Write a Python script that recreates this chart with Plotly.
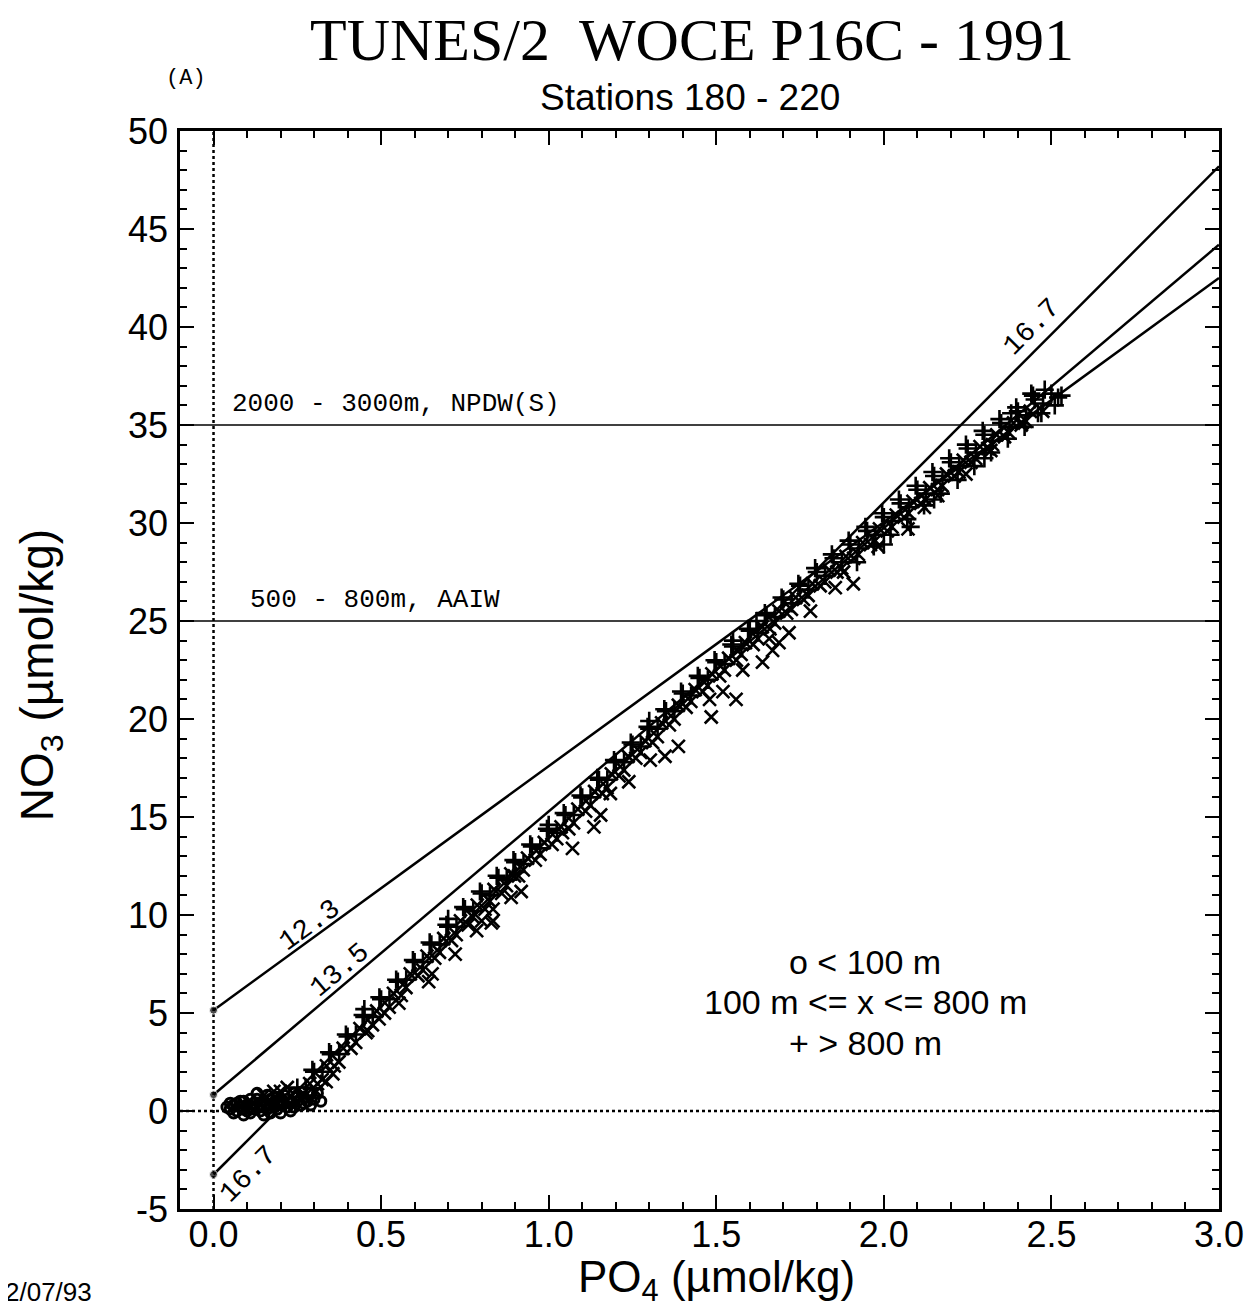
import plotly.graph_objects as go

# ---------------- data ----------------
po4_range = [-0.1, 3.0]
no3_range = [-5, 50]
x_tick_vals = [0.0, 0.5, 1.0, 1.5, 2.0, 2.5, 3.0]
x_tick_text = ["0.0", "0.5", "1.0", "1.5", "2.0", "2.5", "3.0"]
y_tick_vals = [-5, 0, 5, 10, 15, 20, 25, 30, 35, 40, 45, 50]
y_tick_text = ["-5", "0", "5", "10", "15", "20", "25", "30", "35", "40", "45", "50"]

# N:P reference lines  (PO4 at start / end, NO3 at start / end)
ratio_labels = ["12.3", "13.5", "16.7"]
ratio_po4 = [0.0, 3.0]
ratio_start_no3 = [5.14, 0.83, -3.24]
ratio_end_no3 = [42.5, 44.2, 48.2]

# water-mass reference levels
water_levels = [35, 25]
water_labels = ["2000 - 3000m, NPDW(S)", "500 - 800m, AAIW"]

# + : > 800 m
deep_points = [
    (0.25, 1.2), (0.275, 1.2), (0.30, 2.0), (0.325, 2.0), (0.35, 2.9), (0.375, 2.9),
    (0.40, 3.8), (0.425, 3.9), (0.45, 4.8), (0.475, 4.8), (0.50, 5.7), (0.525, 5.7),
    (0.55, 6.6), (0.575, 6.7), (0.60, 7.6), (0.625, 7.6), (0.65, 8.5), (0.675, 8.5),
    (0.70, 9.4), (0.725, 9.4), (0.75, 10.3), (0.775, 10.2), (0.80, 11.1), (0.825, 11.0),
    (0.85, 11.9), (0.875, 11.8), (0.90, 12.7), (0.925, 12.6), (0.95, 13.5), (0.975, 13.4),
    (1.00, 14.3), (1.025, 14.2), (1.05, 15.1), (1.075, 15.1), (1.10, 16.0), (1.125, 16.0),
    (1.15, 16.9), (1.175, 16.9), (1.20, 17.8), (1.225, 17.8), (1.25, 18.7), (1.275, 18.6),
    (1.30, 19.5), (1.325, 19.5), (1.35, 20.4), (1.375, 20.4), (1.40, 21.3), (1.425, 21.2),
    (1.45, 22.1), (1.475, 22.0), (1.50, 22.9), (1.525, 22.8), (1.55, 23.7), (1.575, 23.6),
    (1.60, 24.5), (1.625, 24.4), (1.65, 25.3), (1.675, 25.2), (1.70, 26.1), (1.725, 25.9),
    (1.75, 26.8), (1.775, 26.6), (1.80, 27.5), (1.825, 27.3), (1.85, 28.2), (1.875, 28.0),
    (1.90, 28.9), (1.925, 28.7), (1.95, 29.6), (1.975, 29.4), (2.00, 30.3), (2.025, 30.1),
    (2.05, 31.0), (2.075, 30.8), (2.10, 31.7), (2.125, 31.5), (2.15, 32.4), (2.175, 32.2),
    (2.20, 33.1), (2.225, 32.9), (2.25, 33.8), (2.275, 33.6), (2.30, 34.5), (2.325, 34.2),
    (2.35, 35.1), (2.375, 34.9), (2.40, 35.7), (2.425, 35.5), (2.45, 36.3), (2.475, 36.1),
    (2.50, 36.6), (2.52, 36.4),
    (0.295, 2.1), (0.345, 3.0), (0.395, 3.9), (0.445, 4.9), (0.495, 5.8), (0.545, 6.7),
    (0.595, 7.7), (0.645, 8.6), (0.695, 9.5), (0.745, 10.4), (0.795, 11.2), (0.845, 12.0),
    (0.895, 12.8), (0.945, 13.6), (0.995, 14.4), (1.045, 15.2), (1.095, 16.1), (1.145, 17.0),
    (1.195, 17.9), (1.245, 18.8), (1.295, 19.6), (1.345, 20.5), (1.395, 21.4), (1.445, 22.2),
    (1.495, 23.0), (1.545, 23.8), (1.595, 24.6), (1.645, 25.4), (1.695, 26.2), (1.745, 26.9),
    (1.795, 27.7), (1.845, 28.4), (1.895, 29.1), (1.945, 29.8), (1.995, 30.5), (2.045, 31.2),
    (2.095, 31.9), (2.145, 32.6), (2.195, 33.3), (2.245, 34.0), (2.295, 34.7), (2.345, 35.3),
    (2.395, 35.9), (2.445, 36.5),
    (1.92, 28.0), (1.97, 28.8), (2.02, 29.4), (2.07, 30.2), (2.12, 30.9), (2.17, 31.5),
    (2.22, 32.2), (2.27, 32.9), (2.32, 33.6), (2.37, 34.3), (2.42, 34.9), (2.47, 35.6),
    (2.51, 36.0), (2.38, 35.6), (2.44, 36.6), (2.48, 36.8), (2.53, 36.5), (2.46, 35.6),
    (2.08, 29.8), (2.00, 28.9), (2.15, 31.2), (2.30, 33.3), (1.30, 19.9), (1.00, 14.6),
    (0.70, 9.8), (0.45, 5.2), (1.55, 24.0), (1.62, 25.0),
]

# x : 100 m <= z <= 800 m
mid_points = [
    (0.26, 0.7), (0.31, 1.4), (0.36, 2.3), (0.41, 3.2), (0.46, 4.1), (0.51, 5.0),
    (0.56, 5.9), (0.61, 6.9), (0.66, 7.8), (0.71, 8.7), (0.76, 9.5), (0.81, 10.3),
    (0.86, 11.1), (0.91, 12.0), (0.96, 12.8), (1.01, 13.6), (1.06, 14.4), (1.11, 15.3),
    (1.16, 16.2), (1.21, 17.1), (1.26, 18.0), (1.31, 18.8), (1.36, 19.7), (1.41, 20.6),
    (1.46, 21.4), (1.51, 22.2), (1.56, 23.0), (1.61, 23.8), (1.66, 24.6), (1.71, 25.4),
    (1.76, 26.1), (1.81, 26.8), (1.86, 27.5), (1.91, 28.2), (1.96, 28.9), (2.01, 29.6),
    (2.06, 30.3), (2.11, 31.0), (2.16, 31.7), (2.21, 32.4), (2.26, 33.1), (2.31, 33.8),
    (2.36, 34.4), (2.41, 35.0),
    (0.287, 1.4), (0.337, 2.3), (0.387, 3.2), (0.437, 4.2), (0.487, 5.1), (0.537, 6.0),
    (0.587, 7.0), (0.637, 7.9), (0.687, 8.8), (0.737, 9.7), (0.787, 10.5), (0.837, 11.3),
    (0.887, 12.1), (0.937, 12.9), (0.987, 13.7), (1.037, 14.5), (1.087, 15.4), (1.137, 16.3),
    (1.187, 17.2), (1.237, 18.1), (1.287, 18.9), (1.337, 19.8), (1.387, 20.7), (1.437, 21.5),
    (1.487, 22.3), (1.537, 23.1), (1.587, 23.9), (1.637, 24.7), (1.687, 25.5), (1.737, 26.2),
    (1.787, 26.9), (1.837, 27.6), (1.887, 28.3), (1.937, 29.0), (1.987, 29.7), (2.037, 30.4),
    (2.087, 31.1), (2.137, 31.8), (2.187, 32.5), (2.237, 33.2), (2.287, 33.9), (2.337, 34.5),
    (2.387, 35.1), (2.437, 35.7),
    (0.274, 0.8), (0.324, 1.6), (0.374, 2.5), (0.424, 3.5), (0.474, 4.4), (0.524, 5.3),
    (0.574, 6.3), (0.624, 7.2), (0.674, 8.1), (0.724, 9.0), (0.774, 9.9), (0.824, 10.7),
    (0.874, 11.5), (0.924, 12.3), (0.974, 13.1), (1.024, 13.9), (1.074, 14.7), (1.124, 15.6),
    (1.174, 16.5), (1.224, 17.4), (1.274, 18.3), (1.324, 19.1), (1.374, 20.0), (1.424, 20.9),
    (1.474, 21.7), (1.524, 22.5), (1.574, 23.3), (1.624, 24.1), (1.674, 24.9), (1.724, 25.6),
    (1.774, 26.3), (1.824, 27.0), (1.874, 27.7), (1.924, 28.4), (1.974, 29.1), (2.024, 29.8),
    (2.074, 30.5), (2.124, 31.2), (2.174, 31.9), (2.224, 32.6), (2.274, 33.3), (2.324, 34.0),
    (2.374, 34.6), (2.424, 35.2), (2.474, 35.7),
    (0.307, 1.0), (0.336, 1.5), (0.356, 1.9), (0.455, 4.0), (0.494, 4.7), (0.553, 5.5),
    (0.642, 6.6), (0.652, 7.0), (0.721, 8.0), (0.785, 9.2), (0.834, 9.7), (0.834, 10.3),
    (0.800, 9.7), (0.829, 9.6), (0.888, 10.9), (0.918, 11.2), (0.898, 12.0), (1.041, 14.2),
    (1.071, 13.4), (1.135, 14.5), (1.155, 15.1), (1.184, 16.2), (1.239, 16.8), (1.303, 17.9),
    (1.347, 18.1), (1.387, 18.6), (1.485, 20.1), (1.480, 21.0), (1.520, 21.4), (1.559, 21.0),
    (1.579, 22.5), (1.638, 22.9), (1.668, 23.5), (1.658, 24.1), (1.687, 23.9), (1.717, 24.4),
    (1.781, 25.5), (1.855, 26.7), (1.880, 27.5), (1.909, 26.9), (1.983, 28.8), (2.072, 29.7),
    (2.121, 30.8), (2.161, 31.4), (2.245, 32.5), (2.319, 33.7), (2.412, 35.1),
    (0.15, 0.8), (0.20, 1.0), (0.22, 1.2), (0.18, 1.0),
]

# o : < 100 m
surf_points = [
    (0.05, 0.1), (0.06, 0.3), (0.07, 0.0), (0.08, 0.2), (0.09, 0.1), (0.10, 0.3),
    (0.10, 0.0), (0.11, 0.2), (0.12, 0.1), (0.12, 0.4), (0.13, 0.2), (0.14, 0.0),
    (0.14, 0.3), (0.15, 0.5), (0.16, 0.1), (0.16, 0.3), (0.17, 0.6), (0.18, 0.2),
    (0.18, 0.4), (0.19, 0.1), (0.19, 0.7), (0.20, 0.3), (0.20, 0.5), (0.21, 0.8),
    (0.22, 0.2), (0.22, 0.6), (0.23, 0.4), (0.24, 0.9), (0.25, 0.5), (0.26, 0.3),
    (0.27, 0.7), (0.28, 0.5), (0.29, 0.9), (0.30, 0.6), (0.08, 0.5), (0.13, 0.6),
    (0.06, -0.1), (0.11, -0.1), (0.17, -0.1), (0.23, 0.0),
    (0.07, 0.4), (0.09, 0.5), (0.11, 0.6), (0.15, 0.2), (0.17, 0.3), (0.19, 0.4),
    (0.21, 0.4), (0.24, 0.2), (0.25, 0.8), (0.27, 0.4), (0.29, 0.3), (0.31, 0.9),
    (0.32, 0.5), (0.09, -0.2), (0.15, -0.2), (0.20, -0.1), (0.13, 0.9), (0.16, 0.8),
    (0.05, 0.4), (0.04, 0.2),
]

# ---------------- figure ----------------
fig = go.Figure()

fig.add_trace(go.Scatter(x=po4_range, y=[0, 0], mode="lines",
                         line=dict(color="black", width=2.5, dash="dot"), hoverinfo="skip"))
fig.add_trace(go.Scatter(x=[0, 0], y=no3_range, mode="lines",
                         line=dict(color="black", width=2.5, dash="dot"), hoverinfo="skip"))

for lvl in water_levels:
    fig.add_trace(go.Scatter(x=po4_range, y=[lvl, lvl], mode="lines",
                             line=dict(color="black", width=1.7), hoverinfo="skip"))

for s, e in zip(ratio_start_no3, ratio_end_no3):
    fig.add_trace(go.Scatter(x=ratio_po4, y=[s, e], mode="lines+markers",
                             line=dict(color="black", width=2.5),
                             marker=dict(size=[8, 0], color="black"), hoverinfo="skip"))


def unzip(points):
    return [p[0] for p in points], [p[1] for p in points]


sx, sy = unzip(surf_points)
mx, my = unzip(mid_points)
dx, dy = unzip(deep_points)

fig.add_trace(go.Scatter(x=sx, y=sy, mode="markers", name="< 100 m",
                         marker=dict(symbol="circle-open", size=10, color="black",
                                     line=dict(width=3, color="black"))))
fig.add_trace(go.Scatter(x=mx, y=my, mode="markers", name="100-800 m",
                         marker=dict(symbol="x-thin", size=13, color="black",
                                     line=dict(width=2.6, color="black"))))
fig.add_trace(go.Scatter(x=dx, y=dy, mode="markers", name="> 800 m",
                         marker=dict(symbol="cross-thin", size=13, color="black",
                                     line=dict(width=2.6, color="black"))))

sans = "Liberation Sans, Arial, sans-serif"
mono = "Liberation Mono, Courier New, monospace"
serif = "Liberation Serif, Times New Roman, serif"

ann = []
ann.append(dict(text="TUNES/2  WOCE P16C - 1991", xref="paper", yref="paper",
                x=0.4928, y=1.0844, xanchor="center", yanchor="middle", showarrow=False,
                font=dict(family=serif, size=60, color="black")))
ann.append(dict(text="(A)", xref="paper", yref="paper", x=0.006, y=1.049,
                xanchor="center", yanchor="middle", showarrow=False,
                font=dict(family=mono, size=22, color="black")))
ann.append(dict(text="Stations 180 - 220", xref="paper", yref="paper", x=0.491, y=1.0315,
                xanchor="center", yanchor="middle", showarrow=False,
                font=dict(family=sans, size=37, color="black")))
ann.append(dict(text="2/07/93", xref="paper", yref="paper", x=-0.170, y=-0.077,
                xanchor="left", yanchor="middle", showarrow=False,
                font=dict(family=sans, size=26, color="black")))
ann.append(dict(text="PO<sub>4</sub> (µmol/kg)", xref="paper", yref="paper", x=0.516, y=-0.066,
                xanchor="center", yanchor="middle", showarrow=False,
                font=dict(family=sans, size=44, color="black")))
ann.append(dict(text="NO<sub>3</sub> (µmol/kg)", xref="paper", yref="paper", x=-0.134, y=0.495,
                xanchor="center", yanchor="middle", showarrow=False, textangle=-90,
                font=dict(family=sans, size=46, color="black")))
for txt, yy in zip(["o < 100 m", "100 m <= x <= 800 m", "+ > 800 m"], [0.229, 0.192, 0.154]):
    ann.append(dict(text=txt, xref="paper", yref="paper", x=0.6596, y=yy,
                    xanchor="center", yanchor="middle", showarrow=False,
                    font=dict(family=sans, size=34, color="black")))
for lvl, lab, xx in zip(water_levels, water_labels, [0.05, 0.104]):
    ann.append(dict(text=lab, x=xx, y=lvl + 0.2, xanchor="left", yanchor="bottom",
                    showarrow=False, font=dict(family=mono, size=26, color="black")))
for lab, xx, yy, ang in zip(["12.3", "13.5", "16.7", "16.7"],
                            [0.287, 0.376, 0.104, 2.44],
                            [9.48, 7.19, -3.24, 40.0],
                            [-36, -40, -45, -45]):
    ann.append(dict(text=lab, x=xx, y=yy, xanchor="center", yanchor="middle",
                    showarrow=False, textangle=ang,
                    font=dict(family=mono, size=28, color="black")))

axis_common = dict(showgrid=False, zeroline=False, showline=True, linecolor="black",
                   linewidth=2.5, mirror="allticks", ticks="inside", ticklen=14,
                   tickwidth=2, tickcolor="black",
                   tickfont=dict(family=sans, size=36, color="black"))

fig.update_layout(
    width=1248, height=1305, autosize=False,
    margin=dict(l=172, r=33, t=123, b=104),
    paper_bgcolor="white", plot_bgcolor="white",
    showlegend=False,
    annotations=ann,
    xaxis=dict(range=po4_range, tickvals=x_tick_vals, ticktext=x_tick_text,
               ticklabelstandoff=-8,
               minor=dict(ticks="inside", ticklen=7, tickwidth=1.5, tickcolor="black",
                          dtick=0.1, tick0=0, showgrid=False),
               **axis_common),
    yaxis=dict(range=no3_range, tickvals=y_tick_vals, ticktext=y_tick_text,
               ticklabelstandoff=2,
               minor=dict(ticks="inside", ticklen=7, tickwidth=1.5, tickcolor="black",
                          dtick=1, tick0=0, showgrid=False),
               **axis_common),
)

fig.write_html("out.html")
